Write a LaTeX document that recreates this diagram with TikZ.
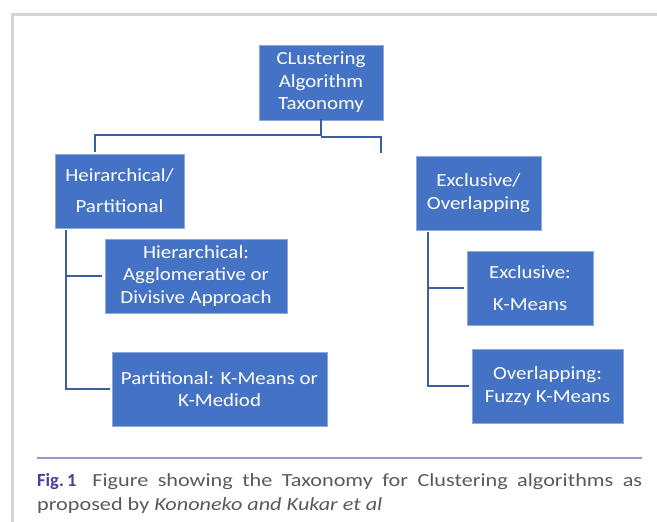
\documentclass[tikz,border=0pt]{standalone}
\usepackage{fontspec}
\setmainfont{Carlito}
\newfontfamily\boxfont[FakeStretch=1.13]{Carlito}
\newfontfamily\capfont[FakeStretch=1.2]{Carlito}
\definecolor{boxblue}{HTML}{4472C4}
\definecolor{boxedge}{HTML}{8EA9DB}
\definecolor{linkblue}{HTML}{3B5FA3}
\definecolor{framegray}{HTML}{D4D4D4}
\definecolor{rulepurple}{HTML}{A58FCF}
\definecolor{figblue}{HTML}{4A3F9E}
\definecolor{capgray}{HTML}{5A5A5A}
\tikzset{
  tbox/.style={fill=boxblue, draw=boxedge, line width=0.8pt, text=white,
    align=center, inner sep=0pt, font=\boxfont\fontsize{18.5}{22.5}\selectfont},
  link/.style={draw=linkblue, line width=2.6pt},
}
\begin{document}
\begin{tikzpicture}[x=1pt,y=-1pt]
\useasboundingbox (0,0) rectangle (657,522);
\fill[white] (0,0) rectangle (657,522);
% frame
\draw[framegray, line width=3pt] (12,522) -- (12,14) -- (657,14);
% boxes
\node[tbox, minimum width=124pt, minimum height=75pt] (top) at (321,82.5) {CLustering\\Algorithm\\Taxonomy};
\node[tbox, minimum width=129pt, minimum height=74pt, font=\boxfont\fontsize{18.5}{31}\selectfont] (hp) at (119.5,191) {Heirarchical/\\Partitional};
\node[tbox, minimum width=125pt, minimum height=74pt] (eo) at (478.5,193) {Exclusive/\\Overlapping};
\node[tbox, minimum width=182pt, minimum height=74pt] (hc) at (196,276) {Hierarchical:\\Agglomerative or\\Divisive Approach};
\node[tbox, minimum width=215pt, minimum height=74pt] (pc) at (219.5,389) {Partitional: K-Means or\\K-Mediod};
\node[tbox, minimum width=126pt, minimum height=74pt, font=\boxfont\fontsize{18.5}{32}\selectfont] (ex) at (530,288) {Exclusive:\\K-Means};
\node[tbox, minimum width=151pt, minimum height=74pt] (ov) at (547.5,386) {Overlapping:\\Fuzzy K-Means};
% connector coordinates
\coordinate (tj) at (321,136);
\coordinate (lj) at (95,135);
\coordinate (ld) at (95,152);
\coordinate (rj) at (381,137);
\coordinate (rd) at (381,153);
\coordinate (lv0) at (66,230);
\coordinate (lv1) at (66,276);
\coordinate (lv2) at (66,389);
\coordinate (rv0) at (428,232);
\coordinate (rv1) at (428,288);
\coordinate (rv2) at (428,386);
\draw[link] ([yshift=1pt]top.south) -- (tj);
\draw[link] (tj |- lj) -- (lj) -- (ld);
\draw[link] (tj |- rj) -- (rj) -- (rd);
\draw[link] (lv0) -- (lv2) -- ([xshift=-2pt]pc.west |- lv2);
\draw[link] (lv1) -- ([xshift=-3pt]hc.west |- lv1);
\draw[link] (rv0) -- (rv2) -- ([xshift=-3pt]ov.west |- rv2);
\draw[link] (rv1) -- ([xshift=-3pt]ex.west |- rv1);
% caption
\draw[rulepurple, line width=2pt] (37,458) -- (642,458);
\node[anchor=north west, inner sep=0pt, text width=605pt, align=justify,
  text=capgray, font=\capfont\fontsize{18.5}{24}\selectfont] (cap) at (37,473)
  {{\normalfont\fontsize{18.5}{24}\selectfont\color{figblue}\bfseries Fig.\,1}\hspace{16pt}Figure showing the Taxonomy for Clustering algorithms as\linebreak proposed by \textit{Kononeko and Kukar et al}};
\end{tikzpicture}
\end{document}
